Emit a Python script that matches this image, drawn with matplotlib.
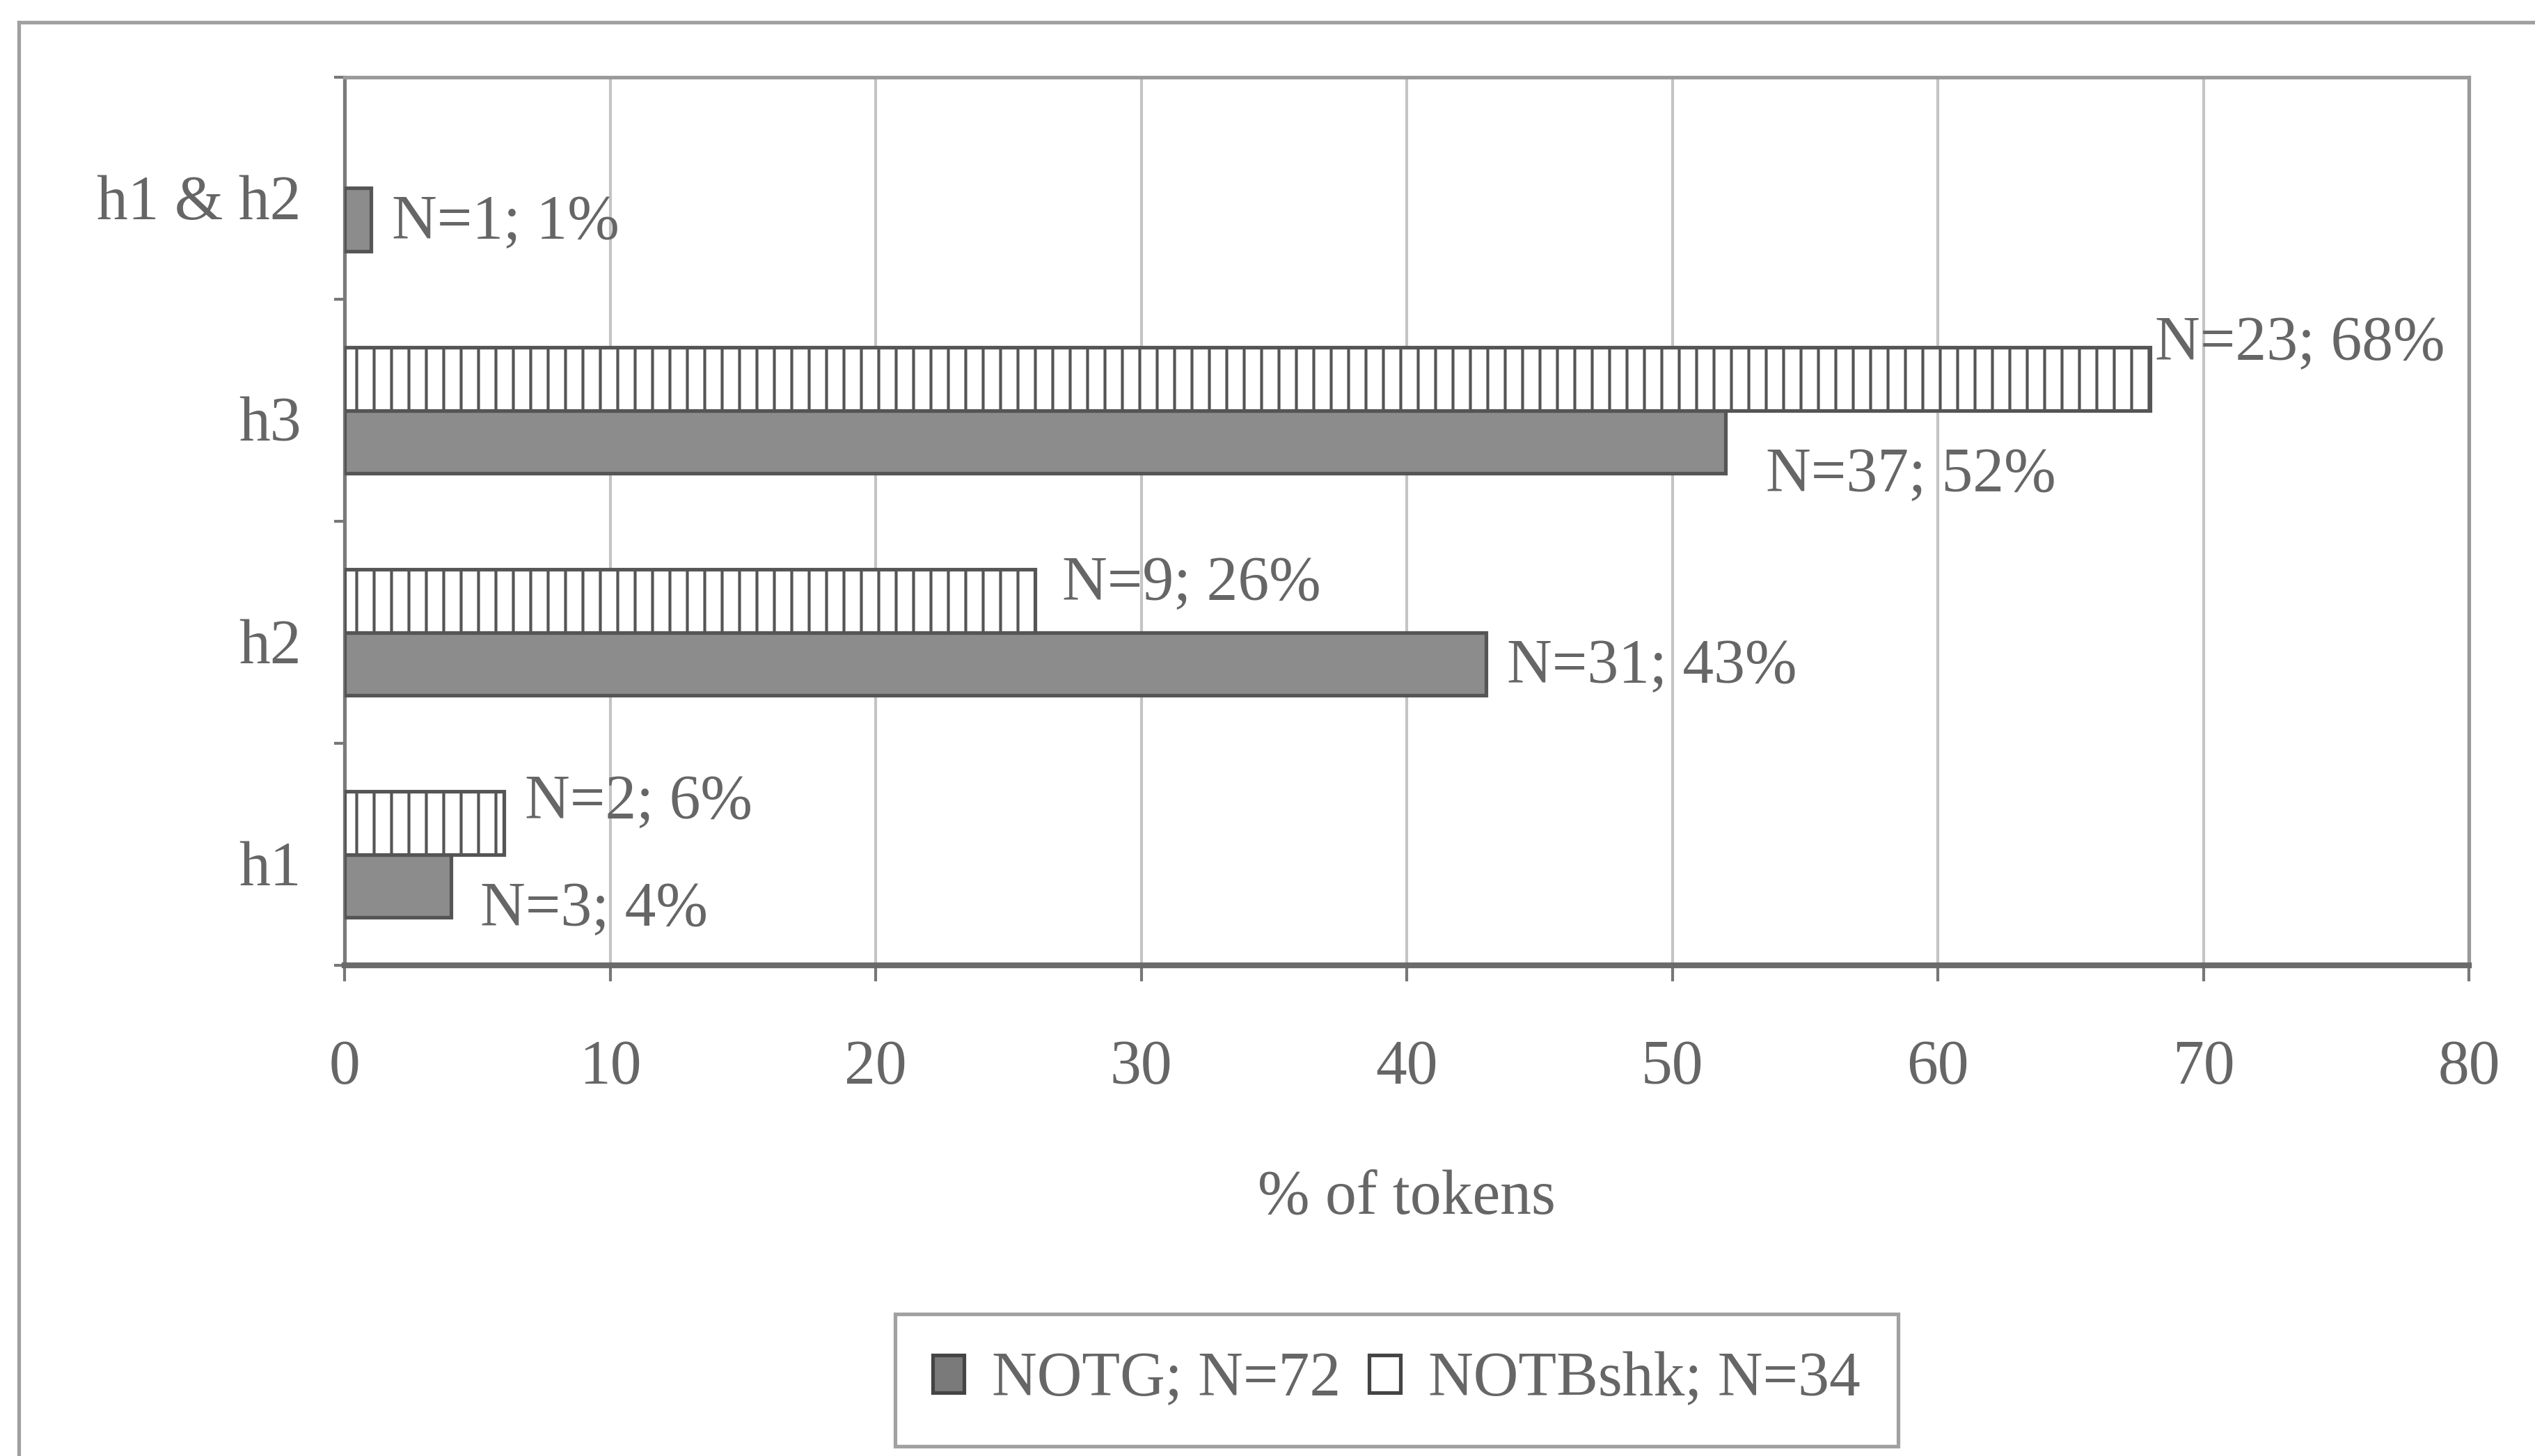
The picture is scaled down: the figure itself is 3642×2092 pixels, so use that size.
import matplotlib
matplotlib.use("Agg")
import matplotlib.pyplot as plt
from matplotlib.patches import Patch
from matplotlib.lines import Line2D
from matplotlib.transforms import ScaledTranslation
import numpy as np

# Data
categories = ["h1", "h2", "h3", "h1 & h2"]
notg_pct = [4, 43, 52, 1]
notg_n = [3, 31, 37, 1]
notb_pct = [6, 26, 68, 0]
notb_n = [2, 9, 23, 0]
x_ticks = [0, 10, 20, 30, 40, 50, 60, 70, 80]
legend_labels = ["NOTG; N=72", "NOTBshk; N=34"]
x_label = "% of tokens"

# Styling
DPI = 150
TXT = "#666666"
FS = 43
plt.rcParams["font.family"] = ["Liberation Serif", "DejaVu Serif"]
plt.rcParams["hatch.color"] = "#6a6a6a"
plt.rcParams["hatch.linewidth"] = 2.0

fig = plt.figure(figsize=(3642 / DPI, 2092 / DPI), dpi=DPI)
ax = fig.add_axes([495 / 3642, 1 - 1387 / 2092, (3547 - 495) / 3642, (1387 - 111) / 2092])

y = np.arange(len(categories))
h = 0.285

# NOTG bars (solid gray) sit below the category centre, NOTBshk (hatched) above it
ax.barh(y - h / 2, notg_pct, height=h, color="#8c8c8c", edgecolor="#555555",
        linewidth=2.5, zorder=3)
notb_draw = [v if v > 0 else np.nan for v in notb_pct]
ax.barh(y + h / 2, notb_draw, height=h, color="white", edgecolor="#555555",
        linewidth=2.5, hatch="|", zorder=3)

# Value labels: per-label nudges in pixels (dx, dy)
g_off = [(42, -35), (30, -5), (58, -49), (30, -5)]
b_off = [(30, 28), (39, 23), (7, 49), None]
for i in range(len(categories)):
    dx, dy = g_off[i]
    ax.annotate(f"N={notg_n[i]}; {notg_pct[i]}%", xy=(notg_pct[i], y[i] - h / 2),
                xytext=(dx, dy), textcoords="offset pixels", ha="left", va="center",
                fontsize=FS, color=TXT, zorder=4)
    if notb_pct[i] > 0 and b_off[i] is not None:
        dx, dy = b_off[i]
        ax.annotate(f"N={notb_n[i]}; {notb_pct[i]}%", xy=(notb_pct[i], y[i] + h / 2),
                    xytext=(dx, dy), textcoords="offset pixels", ha="left", va="center",
                    fontsize=FS, color=TXT, zorder=4)

ax.set_xlim(0, 80)
ax.set_ylim(-0.5, len(categories) - 0.5)
ax.set_xticks(x_ticks)
ax.set_xticklabels([str(t) for t in x_ticks], fontsize=FS, color=TXT)
ax.tick_params(axis="x", direction="out", length=11, width=2, color="#777777", pad=40)

# Category boundaries carry the tick marks, centres carry the labels
ax.set_yticks(np.arange(-0.5, len(categories), 1.0))
ax.set_yticklabels([])
ax.set_yticks(y, minor=True)
ax.set_yticklabels(categories, minor=True, fontsize=FS, color=TXT)
ax.tick_params(axis="y", which="major", direction="out", length=7, width=2, color="#777777")
ax.tick_params(axis="y", which="minor", length=0, pad=30)
shift = ScaledTranslation(0, -6 / 72, fig.dpi_scale_trans)
for lbl in ax.get_yticklabels(minor=True):
    lbl.set_transform(lbl.get_transform() + shift)

ax.xaxis.grid(True, color="#c4c4c4", linewidth=2.0, zorder=0)
ax.set_axisbelow(True)

for side in ["top", "right"]:
    ax.spines[side].set_color("#9a9a9a")
    ax.spines[side].set_linewidth(2.5)
ax.spines["left"].set_color("#7a7a7a")
ax.spines["left"].set_linewidth(2.5)
ax.spines["bottom"].set_color("#6a6a6a")
ax.spines["bottom"].set_linewidth(4)

ax.set_xlabel(x_label, fontsize=FS, color=TXT, labelpad=50)

# Legend
handles = [Patch(facecolor="#7a7a7a", edgecolor="#444444", linewidth=2.5),
           Patch(facecolor="white", edgecolor="#444444", linewidth=2.5)]
leg = fig.legend(handles, legend_labels, loc="center", ncol=2,
                 bbox_to_anchor=((1284 + 2729) / 2 / 3642, 1 - 1983 / 2092),
                 fontsize=FS, frameon=True, fancybox=False, handlelength=0.5,
                 handleheight=0.55, handletextpad=0.45, columnspacing=0.45,
                 borderpad=0.6, labelcolor=TXT)
leg.get_frame().set_edgecolor("#8a8a8a")
leg.get_frame().set_linewidth(2.5)

# Outer chart frame (left and top edges)
fig.add_artist(Line2D([27 / 3642, 27 / 3642], [0, 1 - 32 / 2092], transform=fig.transFigure,
                      color="#a0a0a0", linewidth=2.5))
fig.add_artist(Line2D([27 / 3642, 1], [1 - 32 / 2092, 1 - 32 / 2092], transform=fig.transFigure,
                      color="#a0a0a0", linewidth=2.5))

fig.savefig("out.png", dpi=DPI, facecolor="white")
